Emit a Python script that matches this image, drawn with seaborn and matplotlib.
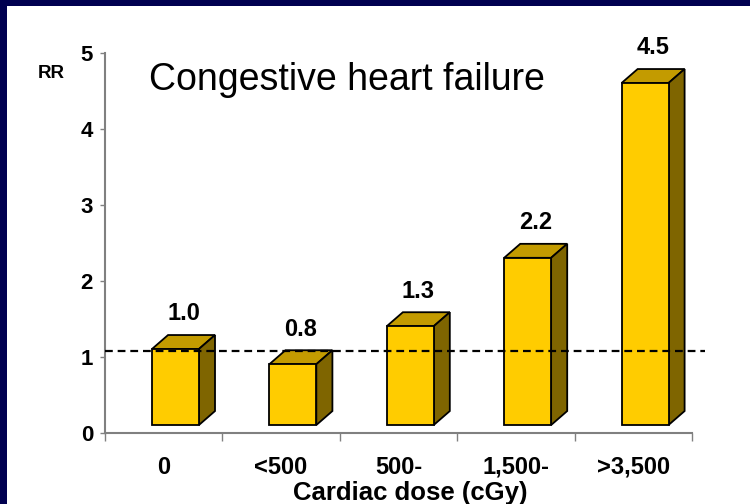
import numpy as np
import pandas as pd
import matplotlib
matplotlib.use("Agg")
import matplotlib.pyplot as plt
from matplotlib.patches import Polygon, Rectangle
from matplotlib.ticker import FixedLocator
import seaborn as sns

# Relative risk of congestive heart failure by cardiac dose group
dose_groups = ["0", "<500", "500-", "1,500-", ">3,500"]
relative_risk = [1.0, 0.8, 1.3, 2.2, 4.5]
rr_labels = ["1.0", "0.8", "1.3", "2.2", "4.5"]
y_ticks = [0, 1, 2, 3, 4, 5]
reference_rr = 1.0

sns.set_style("white")
plt.rcParams["font.family"] = ["Liberation Sans", "DejaVu Sans"]
plt.rcParams["text.color"] = "black"
plt.rcParams["axes.labelcolor"] = "black"
plt.rcParams["xtick.labelcolor"] = "black"
plt.rcParams["ytick.labelcolor"] = "black"

W, H = 750, 504
NAVY = "#000050"
FRONT = "#FFCC00"
TOP = "#C39B00"
SIDE = "#7F6500"
AXIS_GREY = "#808080"

# pseudo-3D geometry (floor lift and box depth, in data units)
FLOOR = 0.105
DX, DY = 0.137, 0.184

fig = plt.figure(figsize=(W / 100, H / 100), dpi=100, facecolor=NAVY)
fig.patches.append(Rectangle((7 / W, 0), 1 - 7 / W, 1 - 6 / H,
                             transform=fig.transFigure, facecolor="white",
                             edgecolor="none", zorder=-10))

ax = fig.add_axes([105 / W, 1 - 433 / H, (692 - 105) / W, (433 - 53) / H])
ax.set_facecolor("none")

df = pd.DataFrame({"dose": dose_groups, "rr": relative_risk})
sns.barplot(data=df, x="dose", y="rr", order=dose_groups, width=0.4,
            color=FRONT, saturation=1, edgecolor="black", linewidth=1.3,
            bottom=FLOOR, errorbar=None, ax=ax, zorder=3)

# top and side faces of each box, plus the value label
for patch, lab in zip(ax.patches, rr_labels):
    x0, w = patch.get_x(), patch.get_width()
    y0 = patch.get_y()
    y1 = y0 + patch.get_height()
    top = Polygon([(x0, y1), (x0 + w, y1), (x0 + w + DX, y1 + DY), (x0 + DX, y1 + DY)],
                  closed=True, facecolor=TOP, edgecolor="black", linewidth=1.3,
                  zorder=2, clip_on=False)
    side = Polygon([(x0 + w, y0), (x0 + w + DX, y0 + DY), (x0 + w + DX, y1 + DY), (x0 + w, y1)],
                   closed=True, facecolor=SIDE, edgecolor="black", linewidth=1.3,
                   zorder=2, clip_on=False)
    ax.add_patch(top)
    ax.add_patch(side)
    ax.annotate(lab, xy=(x0 + w / 2 + DX / 2, y1 + DY), xytext=(0, 10.5),
                textcoords="offset points", ha="center", va="baseline",
                fontsize=17, fontweight="bold", annotation_clip=False)

# reference line at RR = 1
ax.axhline(FLOOR + reference_rr - 0.02, xmin=0, xmax=(705 - 105) / (692 - 105),
           color="black", lw=1.6, linestyle=(0, (3.5, 2.2)), zorder=5,
           clip_on=False)

n = len(dose_groups)
ax.set_xlim(-0.6, n - 0.6)
ax.set_ylim(0, 5)

ax.set_yticks(y_ticks)
ax.set_yticklabels([str(t) for t in y_ticks], fontsize=16, fontweight="bold")
ax.tick_params(axis="y", direction="out", length=3.6, width=1,
               color=AXIS_GREY, pad=5, left=True)

ax.set_xticks(np.arange(n) - 0.1)
ax.set_xticklabels(dose_groups, fontsize=17, fontweight="bold")
ax.tick_params(axis="x", which="major", length=0, pad=16.5)
ax.xaxis.set_minor_locator(FixedLocator(np.arange(n + 1) - 0.6))
ax.tick_params(axis="x", which="minor", direction="out", length=5.8,
               width=1, color=AXIS_GREY, bottom=True)

for side_name in ("top", "right"):
    ax.spines[side_name].set_visible(False)
for side_name in ("left", "bottom"):
    ax.spines[side_name].set_color(AXIS_GREY)
    ax.spines[side_name].set_linewidth(1.5)

ax.set_xlabel("Cardiac dose (cGy)", fontsize=18.5, fontweight="bold")
ax.xaxis.set_label_coords((410 - 105) / (692 - 105), (433 - 481) / (433 - 53))
ax.xaxis.label.set_va("top")

ax.set_ylabel("RR", fontsize=13.5, fontweight="bold", rotation=0,
              ha="center", va="center")
ax.yaxis.set_label_coords((51 - 105) / (692 - 105), (433 - 74) / (433 - 53))

fig.text(149 / W, 1 - 90 / H, "Congestive heart failure", fontsize=27,
         ha="left", va="baseline")

fig.savefig("out.png", dpi=100, facecolor=NAVY)
